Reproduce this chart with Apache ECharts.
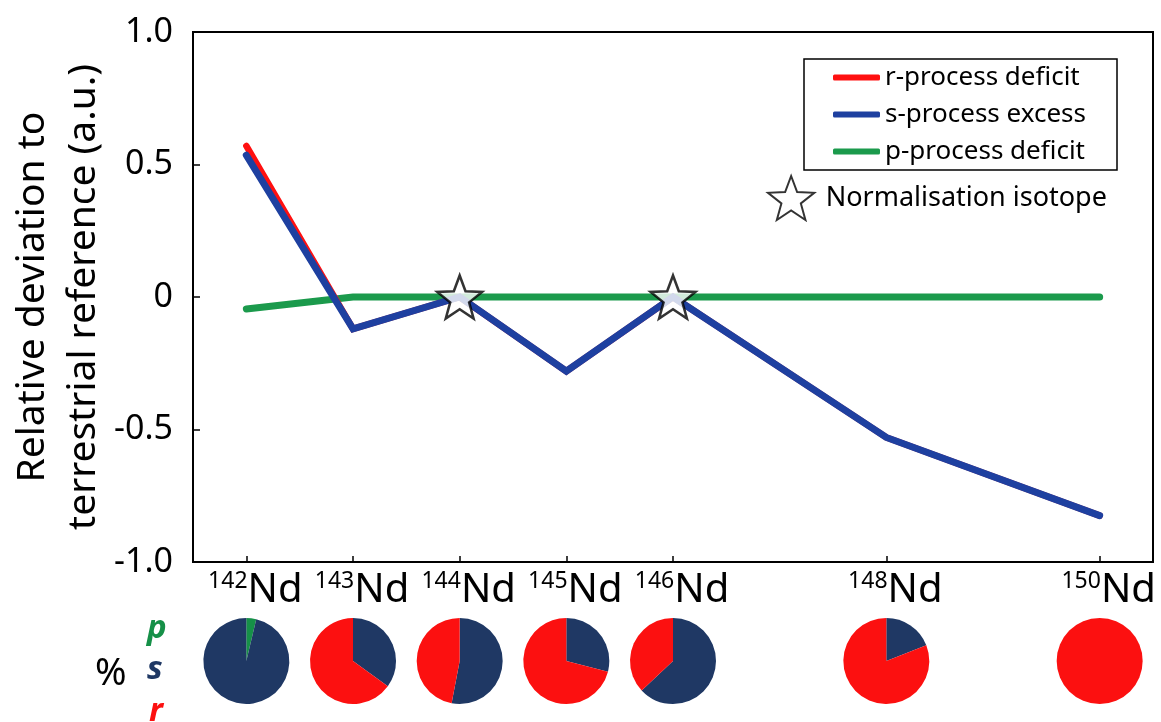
<!DOCTYPE html>
<html>
<head>
<meta charset="utf-8">
<script src="https://cdn.jsdelivr.net/npm/echarts@6/dist/echarts.min.js"></script>
<style>
html,body{margin:0;padding:0;background:#fff;}
#chart{width:1161px;height:722px;}
</style>
</head>
<body>
<div id="chart"></div>
<script>
// ---- data ----
const masses = [142, 143, 144, 145, 146, 148, 150];
const isotopeLabel = 'Nd';
const rDeficit = [0.57, -0.12, 0, -0.28, 0, -0.53, -0.825];
const sExcess  = [0.535, -0.12, 0, -0.28, 0, -0.53, -0.825];
const pDeficit = [-0.045, 0, 0, 0, 0, 0, 0];
const normIsotopes = [144, 146];
const pctP = [3.7, 0, 0, 0, 0, 0, 0];
const pctS = [96.3, 35, 53, 29, 63, 19, 0];
const pctR = [0, 65, 47, 71, 37, 81, 100];
const yTicks = [-1, -0.5, 0, 0.5, 1];
const seriesNames = ['r-process deficit', 's-process excess', 'p-process deficit'];
const normName = 'Normalisation isotope';

// ---- style ----
const FONT = 'Noto Sans';
const C_RED = '#ff1010', C_BLUE = '#1e40a0', C_GREEN = '#1b9a4c';
const P_GREEN = '#169048', P_NAVY = '#1f3864', P_RED = '#fc1010';

function starPath() {
  const pts = [];
  for (let k = 0; k < 10; k++) {
    const a = (-90 + k * 36) * Math.PI / 180;
    const rr = k % 2 === 0 ? 50 : 21;
    pts.push((50 + rr * Math.cos(a)).toFixed(2) + ',' + (50 + rr * Math.sin(a)).toFixed(2));
  }
  return 'path://M' + pts.join('L') + 'Z';
}
const STAR = starPath();

const zip = (xs, ys) => xs.map((x, i) => [x, ys[i]]);

const chart = echarts.init(document.getElementById('chart'), null, {renderer: 'canvas'});

const lineBase = (name, data, color, width, z) => ({
  name, type: 'line', data, z, showSymbol: false, symbol: 'none', silent: true,
  lineStyle: {color, width, cap: 'round', join: 'miter'},
  itemStyle: {color}, animation: false
});

const option = {
  animation: false,
  textStyle: {fontFamily: FONT, color: '#000'},
  grid: {left: 193, top: 32, right: 8, bottom: 160, show: true, borderColor: '#000', borderWidth: 2,
         outerBoundsMode: 'none', containLabel: false},
  xAxis: {
    type: 'value', min: 141.5, max: 150.5,
    axisLine: {show: true, onZero: false, lineStyle: {color: '#000', width: 2}},
    axisTick: {show: true, inside: true, length: 6, lineStyle: {color: '#000', width: 1.5}, customValues: masses},
    axisLabel: {
      customValues: masses, margin: 8, color: '#000', padding: [0, 0, 0, 18],
      formatter: v => '{sup|' + v + '}{nd|' + isotopeLabel + '}',
      rich: {
        sup: {fontSize: 23, lineHeight: 42, verticalAlign: 'top', fontFamily: FONT, color: '#000'},
        nd: {fontSize: 40, lineHeight: 42, fontFamily: FONT, color: '#000'}
      }
    },
    splitLine: {show: false}
  },
  yAxis: {
    type: 'value', min: -1, max: 1, interval: 0.5,
    name: 'Relative deviation to\nterrestrial reference (a.u.)',
    nameLocation: 'middle', nameGap: 84, nameMoveOverlap: false,
    nameTextStyle: {fontSize: 39, lineHeight: 51, color: '#000', fontFamily: FONT},
    axisLine: {show: true, onZero: false, lineStyle: {color: '#000', width: 2}},
    axisTick: {show: true, inside: true, length: 7, lineStyle: {color: '#000', width: 1.5}},
    axisLabel: {fontSize: 34, margin: 20, color: '#000',
      formatter: v => (v === 0 ? '0' : v.toFixed(1))},
    splitLine: {show: false}
  },
  legend: [{
    data: seriesNames, orient: 'vertical', left: 804, top: 59,
    padding: [0, 31, 0, 29], itemGap: 0, itemWidth: 47, itemHeight: 6, icon: 'roundRect',
    borderColor: '#000', borderWidth: 1.5, selectedMode: false,
    textStyle: {fontSize: 26, lineHeight: 37, color: '#000', fontFamily: FONT}
  }, {
    data: [normName], orient: 'vertical', left: 767, top: 175, padding: 0,
    itemWidth: 47, itemHeight: 44, selectedMode: false,
    textStyle: {fontSize: 27, lineHeight: 44, color: '#000', fontFamily: FONT, padding: [0, 0, 0, 6]}
  }],
  graphic: [
    {type: 'text', left: 95, top: 655, style: {text: '%', fontSize: 38, fontFamily: FONT, fill: '#000'}},
    {type: 'text', left: 147, top: 612, style: {text: 'p', fontSize: 33, fontStyle: 'italic', fontWeight: 'bold', fontFamily: FONT, fill: P_GREEN}},
    {type: 'text', left: 147, top: 653, style: {text: 's', fontSize: 33, fontStyle: 'italic', fontWeight: 'bold', fontFamily: FONT, fill: P_NAVY}},
    {type: 'text', left: 149, top: 695, style: {text: 'r', fontSize: 33, fontStyle: 'italic', fontWeight: 'bold', fontFamily: FONT, fill: P_RED}}
  ],
  series: [
    lineBase(seriesNames[2], zip(masses, pDeficit), C_GREEN, 7, 2),
    lineBase(seriesNames[0], zip(masses, rDeficit), C_RED, 6.5, 3),
    lineBase(seriesNames[1], zip(masses, sExcess), C_BLUE, 7, 4),
    {
      name: normName, type: 'scatter', z: 10, silent: true,
      data: normIsotopes.map(m => [m, 0]),
      symbol: STAR, symbolSize: [45, 43],
      itemStyle: {color: '#fff', borderColor: '#000', borderWidth: 2.5}
    }
  ]
};

chart.setOption(option);

// pies positioned through the x axis scale
const pies = masses.map((m, i) => ({
  type: 'pie', silent: true, animation: false,
  center: [chart.convertToPixel({xAxisIndex: 0}, m), 661],
  radius: 43, startAngle: 90, clockwise: true,
  label: {show: false}, labelLine: {show: false},
  avoidLabelOverlap: false, minAngle: 0,
  itemStyle: {borderWidth: 0, borderRadius: 0},
  emphasis: {disabled: true},
  data: [
    {name: 'p', value: pctP[i], itemStyle: {color: P_GREEN}},
    {name: 's', value: pctS[i], itemStyle: {color: P_NAVY}},
    {name: 'r', value: pctR[i], itemStyle: {color: P_RED}}
  ]
}));
chart.setOption({series: option.series.concat(pies)});
</script>
</body>
</html>
